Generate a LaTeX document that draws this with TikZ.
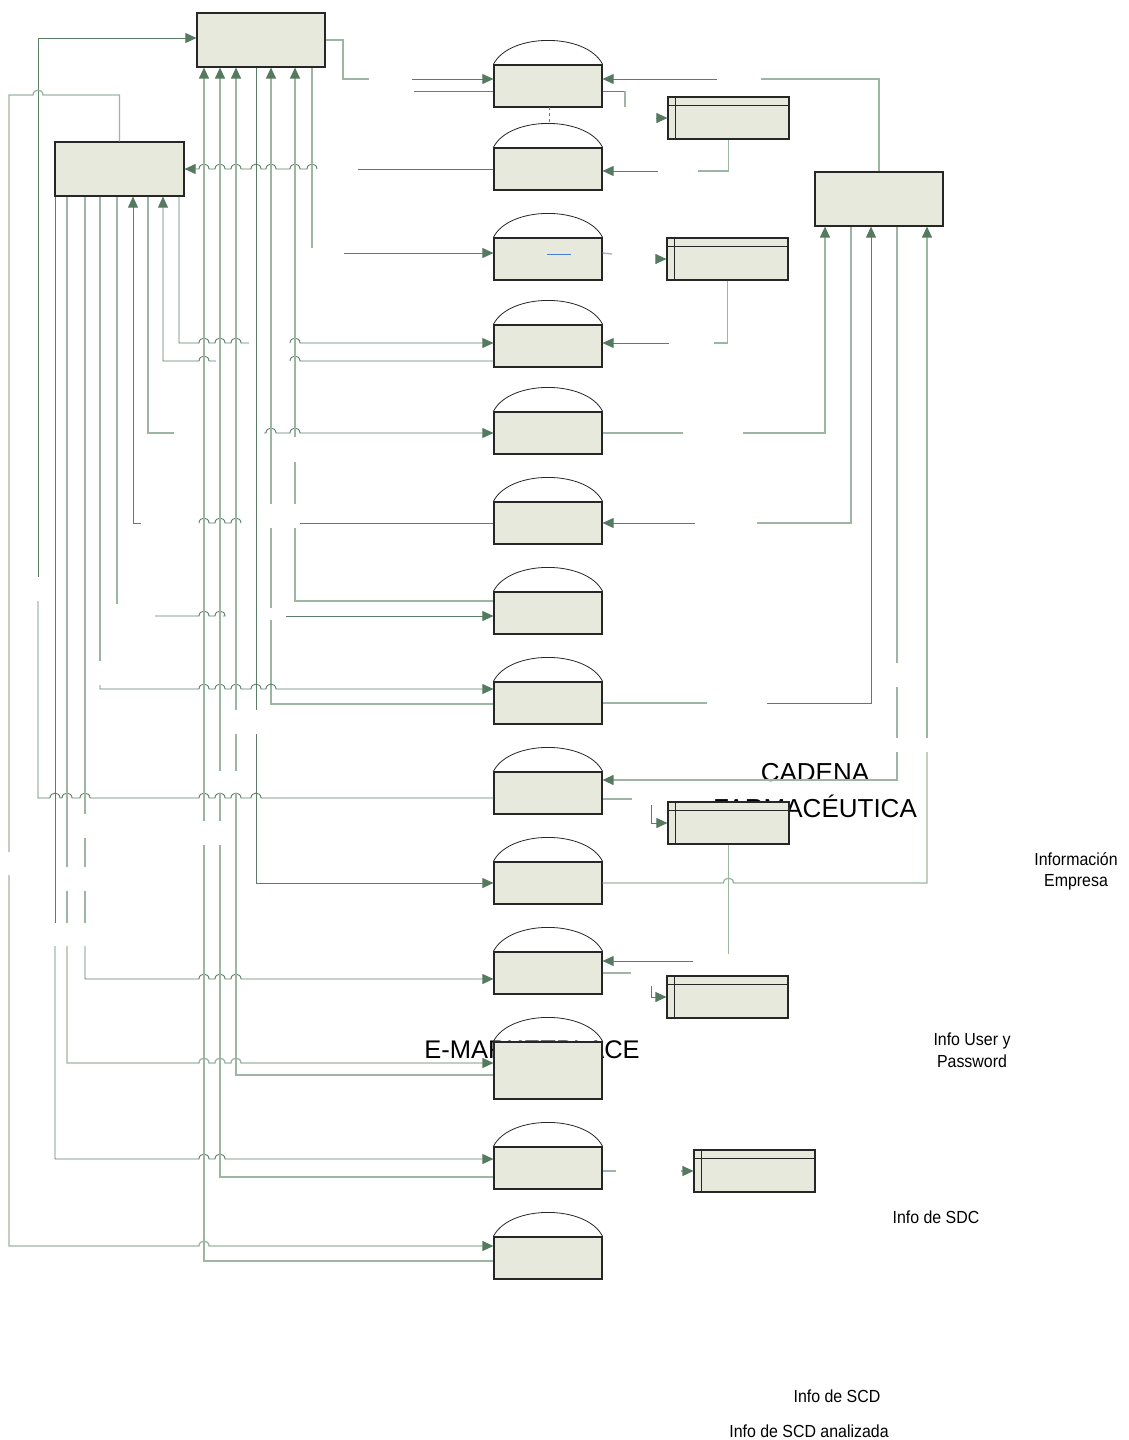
\documentclass[tikz,border=0pt]{standalone}
\usepackage{fontspec}
\setmainfont{Liberation Sans}
\usetikzlibrary{arrows.meta,calc}
\definecolor{boxfill}{HTML}{E8E9DD}
\definecolor{lnD}{HTML}{5C7E66}
\definecolor{lnL}{HTML}{9DB6A3}
\definecolor{tipc}{HTML}{557A5F}
\definecolor{selb}{HTML}{4A7ED6}
\newcommand\jx[2]{-- ({#1-5},#2) .. controls ({#1-5},{#2-6.5}) and ({#1+5},{#2-6.5}) .. ({#1+5},#2)}
\begin{document}
\begin{tikzpicture}[x=1pt,y=-1pt,
  ent/.style={draw=black!85,line width=1.2pt,fill=boxfill,inner sep=0pt,minimum width=128pt,minimum height=54pt},
  proc/.style={draw=black!85,line width=1.2pt,fill=boxfill,inner sep=0pt,minimum width=108pt,minimum height=42pt},
  store/.style={draw=black!85,line width=1.1pt,fill=boxfill,inner sep=0pt,minimum width=121pt,minimum height=42pt},
  fld/.style={draw=lnD,line width=0.9pt},
  fll/.style={draw=lnL,line width=1.3pt},
  ar/.style={-{Triangle[length=11pt,width=10pt,color=tipc]}},
  ra/.style={{Triangle[length=11pt,width=10pt,color=tipc]}-},
  big/.style={inner sep=0pt,anchor=base,font=\fontsize{26}{30}\selectfont},
  lbl/.style={inner sep=0pt,anchor=base,xscale=0.91,font=\fontsize{17.5}{20}\selectfont}]
\fill[white] (0,0) rectangle (1129,1440);
\useasboundingbox (0,0) rectangle (1129,1440);
% texts under boxes
\node[big] (tcad) at (815,781) {CADENA};
\node[big] (tfar) at (815,817) {FARMACÉUTICA};
\node[big,font=\fontsize{25.5}{30}\selectfont] (tem) at (532,1058) {E-MARKETPLACE};
\node[lbl] (l1) at (1076,865) {Información};
\node[lbl] (l2) at (1076,886) {Empresa};
\node[lbl] (l3) at (972,1045) {Info User y};
\node[lbl] (l4) at (972,1067) {Password};
\node[lbl] (l5) at (936,1223) {Info de SDC};
\node[lbl] (l6) at (837,1402) {Info de SCD};
\node[lbl] (l7) at (809,1437) {Info de SCD analizada};
% entities
\node[ent] (A) at (261,40) {};
\node[ent,minimum width=129pt] (B) at (119.5,169) {};
\node[ent] (C) at (879,199) {};
% processes
\node[proc] (P1) at (548,86) {};
\node[proc] (P2) at (548,169) {};
\node[proc] (P3) at (548,259) {};
\node[proc] (P4) at (548,346) {};
\node[proc] (P5) at (548,433) {};
\node[proc] (P6) at (548,523) {};
\node[proc] (P7) at (548,613) {};
\node[proc] (P8) at (548,703) {};
\node[proc] (P9) at (548,793) {};
\node[proc] (P10) at (548,883) {};
\node[proc] (P11) at (548,973) {};
\node[proc,minimum height=57pt] (P12) at (548,1070.5) {};
\node[proc] (P13) at (548,1168) {};
\node[proc] (P14) at (548,1258) {};
\foreach \n in {P1,P2,P3,P4,P5,P6,P7,P8,P9,P10,P11,P12,P13,P14}
  \draw[black!85,line width=0.8pt] (\n.north west) .. controls +(16,-32) and +(-16,-32) .. (\n.north east);
% data stores
\node[store] (D1) at (728.5,118) {};
\node[store] (D2) at (727.5,259) {};
\node[store] (D3) at (728.5,823) {};
\node[store] (D4) at (727.5,997) {};
\node[store] (D5) at (754.5,1171) {};
\foreach \n in {D1,D2,D3,D4,D5}{
  \draw[black!85,line width=1pt] ($(\n.north west)+(0,9)$) -- ($(\n.north east)+(0,9)$);
  \draw[black!85,line width=1pt] ($(\n.north west)+(8,0)$) -- ($(\n.south west)+(8,0)$);
}
% ---- connectors ----
% A -> P1
\draw[fll] (A.east) -- (343,40) -- (343,79) -- (369,79);
\draw[fld,ar] (412,79) -- (P1.west|-0,79);
% selection artefacts
\draw[selb,line width=0.8pt] (414,91) -- (P1.west|-0,91);
\draw[selb,line width=0.8pt] (P1.east|-0,91) -- (625,91);
\draw[fll] (625,91) -- (625,107);
\draw[fld,ar] (656,118) -- (D1.west);
\draw[selb,dashed,line width=0.6pt] (549,107) -- (549,124);
\draw[selb,line width=0.8pt] (547,254) -- (571,254);
% C -> P1
\draw[fll] (C.north) -- (879,79) -- (761,79);
\draw[fld,ar] (717,79) -- (P1.east|-0,79);
% D1 -> P2
\draw[fll] (D1.south) -- (728.5,171) -- (698,171);
\draw[fld,ar] (658,171) -- (P2.east|-0,171);
% P2 -> B
\draw[fld] (P2.west) -- (358,169);
\draw[fld,ra] (B.east) \jx{204}{169}\jx{220}{169}\jx{236}{169}\jx{256}{169}\jx{271}{169}\jx{295}{169}\jx{312}{169};
% A -> P3
\draw[fll] (A.south-|312,0) -- (312,248);
\draw[fld,ar] (344,253) -- (P3.west|-0,253);
% P3 -> D2
\draw[fll] (P3.east|-0,253) -- (612,254);
\draw[fld,ar] (657,259) -- (D2.west);
% D2 -> P4
\draw[fll] (D2.south) -- (727.5,343) -- (714,343);
\draw[fld,ar] (669,343) -- (P4.east|-0,343);
% B -> P4
\draw[fld] (B.south-|179,0) -- (179,343) \jx{204}{343}\jx{220}{343}\jx{236}{343} -- (249,343);
\draw[fld,ar] (290,343)\jx{295}{343} -- (P4.west|-0,343);
% P4 -> B
\draw[fld,ra] (B.south-|163,0) -- (163,361) \jx{204}{361} -- (216,361);
\draw[fld] (290,361)\jx{295}{361} -- (P4.west|-0,361);
% B -> P5
\draw[fll] (B.south-|148,0) -- (148,433) -- (174,433);
\draw[fld,ar] (264,433)\jx{271}{433}\jx{295}{433} -- (P5.west);
% P5 -> C
\draw[fll] (P5.east) -- (683,433);
\draw[fll,ar] (743,433) -- (825,433) -- (C.south-|825,0);
% C -> P6
\draw[fll] (C.south-|851,0) -- (851,523) -- (757,523);
\draw[fld,ar] (695,523) -- (P6.east);
% P6 -> B
\draw[fld,ra] (B.south-|133,0) -- (133,523) -- (141,523);
\draw[fld] (199,523)\jx{204}{523}\jx{220}{523}\jx{236}{523} -- (241,523);
\draw[fld] (300,523) -- (P6.west);
% B -> P7
\draw[fll] (B.south-|117,0) -- (117,604);
\draw[fld] (155,616)\jx{204}{616}\jx{220}{616} -- (223,616);
\draw[fld,ar] (286,616) -- (P7.west|-0,616);
% P7 -> A
\draw[fll,ra] (A.south-|295,0) -- (295,437);
\draw[fll] (295,462) -- (295,504);
\draw[fll] (295,528) -- (295,601) -- (P7.west|-0,601);
% P8 -> A
\draw[fll,ra] (A.south-|271,0) -- (271,504);
\draw[fll] (271,528) -- (271,608);
\draw[fll] (271,620) -- (271,704) -- (P8.west|-0,704);
% B -> P8
\draw[fll] (B.south-|100,0) -- (100,661);
\draw[fld,ar] (100,685) -- (100,689) \jx{204}{689}\jx{220}{689}\jx{236}{689}\jx{256}{689}\jx{271}{689} -- (P8.west|-0,689);
% P8 -> C
\draw[fll] (P8.east) -- (707,703);
\draw[fld,ar] (767,703) -- (871,703) -- (C.south-|871,0);
% P9 -> A
\draw[fld,ra] (A.west|-0,38) -- (38,38) -- (38,577);
\draw[fld] (38,601) -- (38,798) \jx{55}{798}\jx{67}{798}\jx{85}{798}\jx{204}{798}\jx{220}{798}\jx{236}{798}\jx{256}{798} -- (P9.west|-0,798);
% B -> P14
\draw[fll] (9,852) -- (9,95) \jx{38}{95} -- (119.5,95) -- (B.north);
\draw[fll,ar] (9,875) -- (9,1246)\jx{204}{1246} -- (P14.west|-0,1246);
% C -> P9
\draw[fll] (C.south-|897,0) -- (897,663);
\draw[fll] (897,687) -- (897,738);
\draw[fll,ar] (897,752) -- (897,780) -- (P9.east|-0,780);
% P9 -> D3
\draw[fll] (P9.east|-0,799) -- (632,799);
\draw[fld,ar] (651,805) -- (651,823) -- (D3.west);
% A -> P10
\draw[fld] (A.south-|256,0) -- (256,710);
\draw[fld,ar] (256,734) -- (256,883) -- (P10.west);
% P10 -> C
\draw[fll] (P10.east) \jx{728.5}{883} -- (927,883) -- (927,752);
\draw[fll,ar] (927,738) -- (C.south-|927,0);
% D3 -> P11
\draw[fll] (D3.south) -- (728.5,954);
\draw[fld,ar] (693,961) -- (P11.east|-0,961);
% B -> P11
\draw[fll] (B.south-|85,0) -- (85,814);
\draw[fll] (85,838) -- (85,867);
\draw[fll] (85,891) -- (85,923);
\draw[fld,ar] (85,946) -- (85,979) \jx{204}{979}\jx{220}{979}\jx{236}{979} -- (P11.west|-0,979);
% P11 -> D4
\draw[fll] (P11.east|-0,973) -- (631,973);
\draw[fld,ar] (651,986) -- (651,997) -- (D4.west);
% B -> P12
\draw[fll] (B.south-|67,0) -- (67,867);
\draw[fll] (67,891) -- (67,923);
\draw[fll,ar] (67,946) -- (67,1063)\jx{204}{1063}\jx{220}{1063}\jx{236}{1063} -- (P12.west|-0,1063);
% P12 -> A
\draw[fll,ra] (A.south-|236,0) -- (236,710);
\draw[fll] (236,734) -- (236,771);
\draw[fll] (236,793) -- (236,1075) -- (P12.west|-0,1075);
% B -> P13
\draw[fld] (B.south-|55,0) -- (55,923);
\draw[fld,ar] (55,946) -- (55,1159)\jx{204}{1159}\jx{220}{1159} -- (P13.west|-0,1159);
% P13 -> A
\draw[fll,ra] (A.south-|220,0) -- (220,771);
\draw[fll] (220,793) -- (220,821);
\draw[fll] (220,845) -- (220,1177) -- (P13.west|-0,1177);
% P13 -> D5
\draw[fll] (P13.east|-0,1171) -- (616,1171);
\draw[fll,ar] (681,1171) -- (D5.west);
% P14 -> A
\draw[fll,ra] (A.south-|204,0) -- (204,821);
\draw[fll] (204,845) -- (204,1261) -- (P14.west|-0,1261);
\end{tikzpicture}
\end{document}
